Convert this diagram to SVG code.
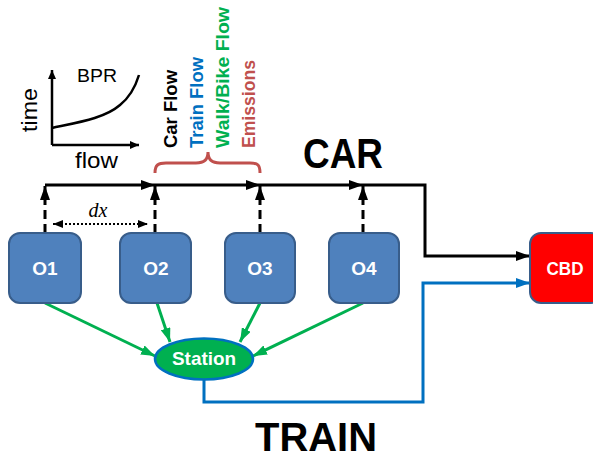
<svg xmlns="http://www.w3.org/2000/svg" width="593" height="460" viewBox="0 0 593 460">
<style>
text{font-family:"Liberation Sans",Arial,sans-serif}
.box{fill:#4F81BD;stroke:#385D8A;stroke-width:2}
.lbl{fill:#fff;font-weight:bold;font-size:19px;text-anchor:middle}
.car{fill:none;stroke:#000;stroke-width:3}
.dash{fill:none;stroke:#000;stroke-width:3;stroke-dasharray:9,5}
.walk{fill:none;stroke:#00B050;stroke-width:3}
.train{fill:none;stroke:#0070C0;stroke-width:3}
.vt{font-weight:bold;font-size:18px}
</style>
<defs>
<marker id="ab" markerUnits="userSpaceOnUse" markerWidth="14" markerHeight="10" refX="14" refY="5" orient="auto"><path d="M0,0 L14,5 L0,10 Z" fill="#000"/></marker>
<marker id="ag" markerUnits="userSpaceOnUse" markerWidth="14" markerHeight="10" refX="14" refY="5" orient="auto"><path d="M0,0 L14,5 L0,10 Z" fill="#00B050"/></marker>
<marker id="at" markerUnits="userSpaceOnUse" markerWidth="14" markerHeight="10" refX="14" refY="5" orient="auto"><path d="M0,0 L14,5 L0,10 Z" fill="#0070C0"/></marker>
<marker id="as" markerUnits="userSpaceOnUse" markerWidth="10" markerHeight="8" refX="10" refY="4" orient="auto"><path d="M0,0 L10,4 L0,8 Z" fill="#000"/></marker>
<marker id="ass" markerUnits="userSpaceOnUse" markerWidth="10" markerHeight="8" refX="0" refY="4" orient="auto"><path d="M10,0 L0,4 L10,8 Z" fill="#000"/></marker>
<marker id="ax" markerUnits="userSpaceOnUse" markerWidth="9" markerHeight="8" refX="9" refY="4" orient="auto"><path d="M0,0 L9,4 L0,8 Z" fill="#000"/></marker>
</defs>

<g id="bpr-plot">
<path d="M52,145 L52,70" fill="none" stroke="#000" stroke-width="2.5" marker-end="url(#ax)"/>
<path d="M52,145 L139,145" fill="none" stroke="#000" stroke-width="2.5" marker-end="url(#ax)"/>
<path d="M52,128 C80,122 105,118 120,105 C130,97 135,88 139,75" fill="none" stroke="#000" stroke-width="2.5"/>
<text x="77" y="82" font-size="19" textLength="40" lengthAdjust="spacingAndGlyphs">BPR</text>
<text transform="translate(37,132) rotate(-90)" font-size="22" textLength="44" lengthAdjust="spacingAndGlyphs">time</text>
<text x="75" y="168" font-size="22" textLength="43" lengthAdjust="spacingAndGlyphs">flow</text>
</g>

<g id="flow-labels">
<text class="vt" transform="translate(177,148) rotate(-90)" fill="#000" textLength="78" lengthAdjust="spacingAndGlyphs">Car Flow</text>
<text class="vt" transform="translate(203,148) rotate(-90)" fill="#0070C0" textLength="91" lengthAdjust="spacingAndGlyphs">Train Flow</text>
<text class="vt" transform="translate(229,148) rotate(-90)" fill="#00B050" textLength="141" lengthAdjust="spacingAndGlyphs">Walk/Bike Flow</text>
<text class="vt" transform="translate(255,148) rotate(-90)" fill="#C0504D" textLength="88" lengthAdjust="spacingAndGlyphs">Emissions</text>
<path d="M155,173 C155,165 158,163 166,163 L196,163 C204,163 208,160 208,152 C208,160 212,163 220,163 L250,163 C258,163 260,165 260,173" fill="none" stroke="#C0504D" stroke-width="3"/>
</g>

<text id="car-title" x="303" y="168" font-size="42" font-weight="bold" textLength="80" lengthAdjust="spacingAndGlyphs">CAR</text>
<text id="train-title" x="255" y="451" font-size="41" font-weight="bold" textLength="122" lengthAdjust="spacingAndGlyphs">TRAIN</text>

<g id="connectors">
<path class="car" d="M45,185 L155,185" marker-end="url(#ab)"/>
<path class="car" d="M155,185 L260,185" marker-end="url(#ab)"/>
<path class="car" d="M260,185 L363,185" marker-end="url(#ab)"/>
<path class="car" d="M363,185 L425,185 L425,256 L530,256" marker-end="url(#ab)"/>
<path class="dash" d="M45,233 L45,186" marker-end="url(#ab)"/>
<path class="dash" d="M155,233 L155,186" marker-end="url(#ab)"/>
<path class="dash" d="M260,233 L260,186" marker-end="url(#ab)"/>
<path class="dash" d="M363,233 L363,186" marker-end="url(#ab)"/>
<path d="M53,224 L148,224" fill="none" stroke="#000" stroke-width="2" stroke-dasharray="2,2" marker-start="url(#ass)" marker-end="url(#as)"/>
<path class="walk" d="M45,303 L155,356" marker-end="url(#ag)"/>
<path class="walk" d="M157,303 L170,342" marker-end="url(#ag)"/>
<path class="walk" d="M260,303 L240,342" marker-end="url(#ag)"/>
<path class="walk" d="M363,303 L253,356" marker-end="url(#ag)"/>
<path class="train" d="M204,379 L204,402 L423,402 L423,283 L530,283" marker-end="url(#at)"/>
</g>
<text id="dx-label" x="98" y="217" font-style="italic" font-size="20" text-anchor="middle" style="font-family:'Liberation Serif',serif">dx</text>

<g id="O1"><rect class="box" x="9" y="233" width="72" height="70" rx="11"/><text class="lbl" x="45" y="275">O1</text></g>
<g id="O2"><rect class="box" x="120" y="233" width="71" height="70" rx="11"/><text class="lbl" x="156" y="275">O2</text></g>
<g id="O3"><rect class="box" x="225" y="233" width="70" height="70" rx="11"/><text class="lbl" x="260" y="275">O3</text></g>
<g id="O4"><rect class="box" x="329" y="233" width="70" height="70" rx="11"/><text class="lbl" x="364" y="275">O4</text></g>
<g id="CBD"><rect x="530" y="233" width="72" height="70" rx="11" fill="#FF0000" stroke="#385D8A" stroke-width="2"/><text class="lbl" x="565" y="275" textLength="37" lengthAdjust="spacingAndGlyphs">CBD</text></g>
<g id="Station"><ellipse cx="204" cy="359" rx="49" ry="20.5" fill="#00B050" stroke="#0070C0" stroke-width="2.5"/><text class="lbl" x="204" y="365" textLength="64" lengthAdjust="spacingAndGlyphs">Station</text></g>
</svg>
